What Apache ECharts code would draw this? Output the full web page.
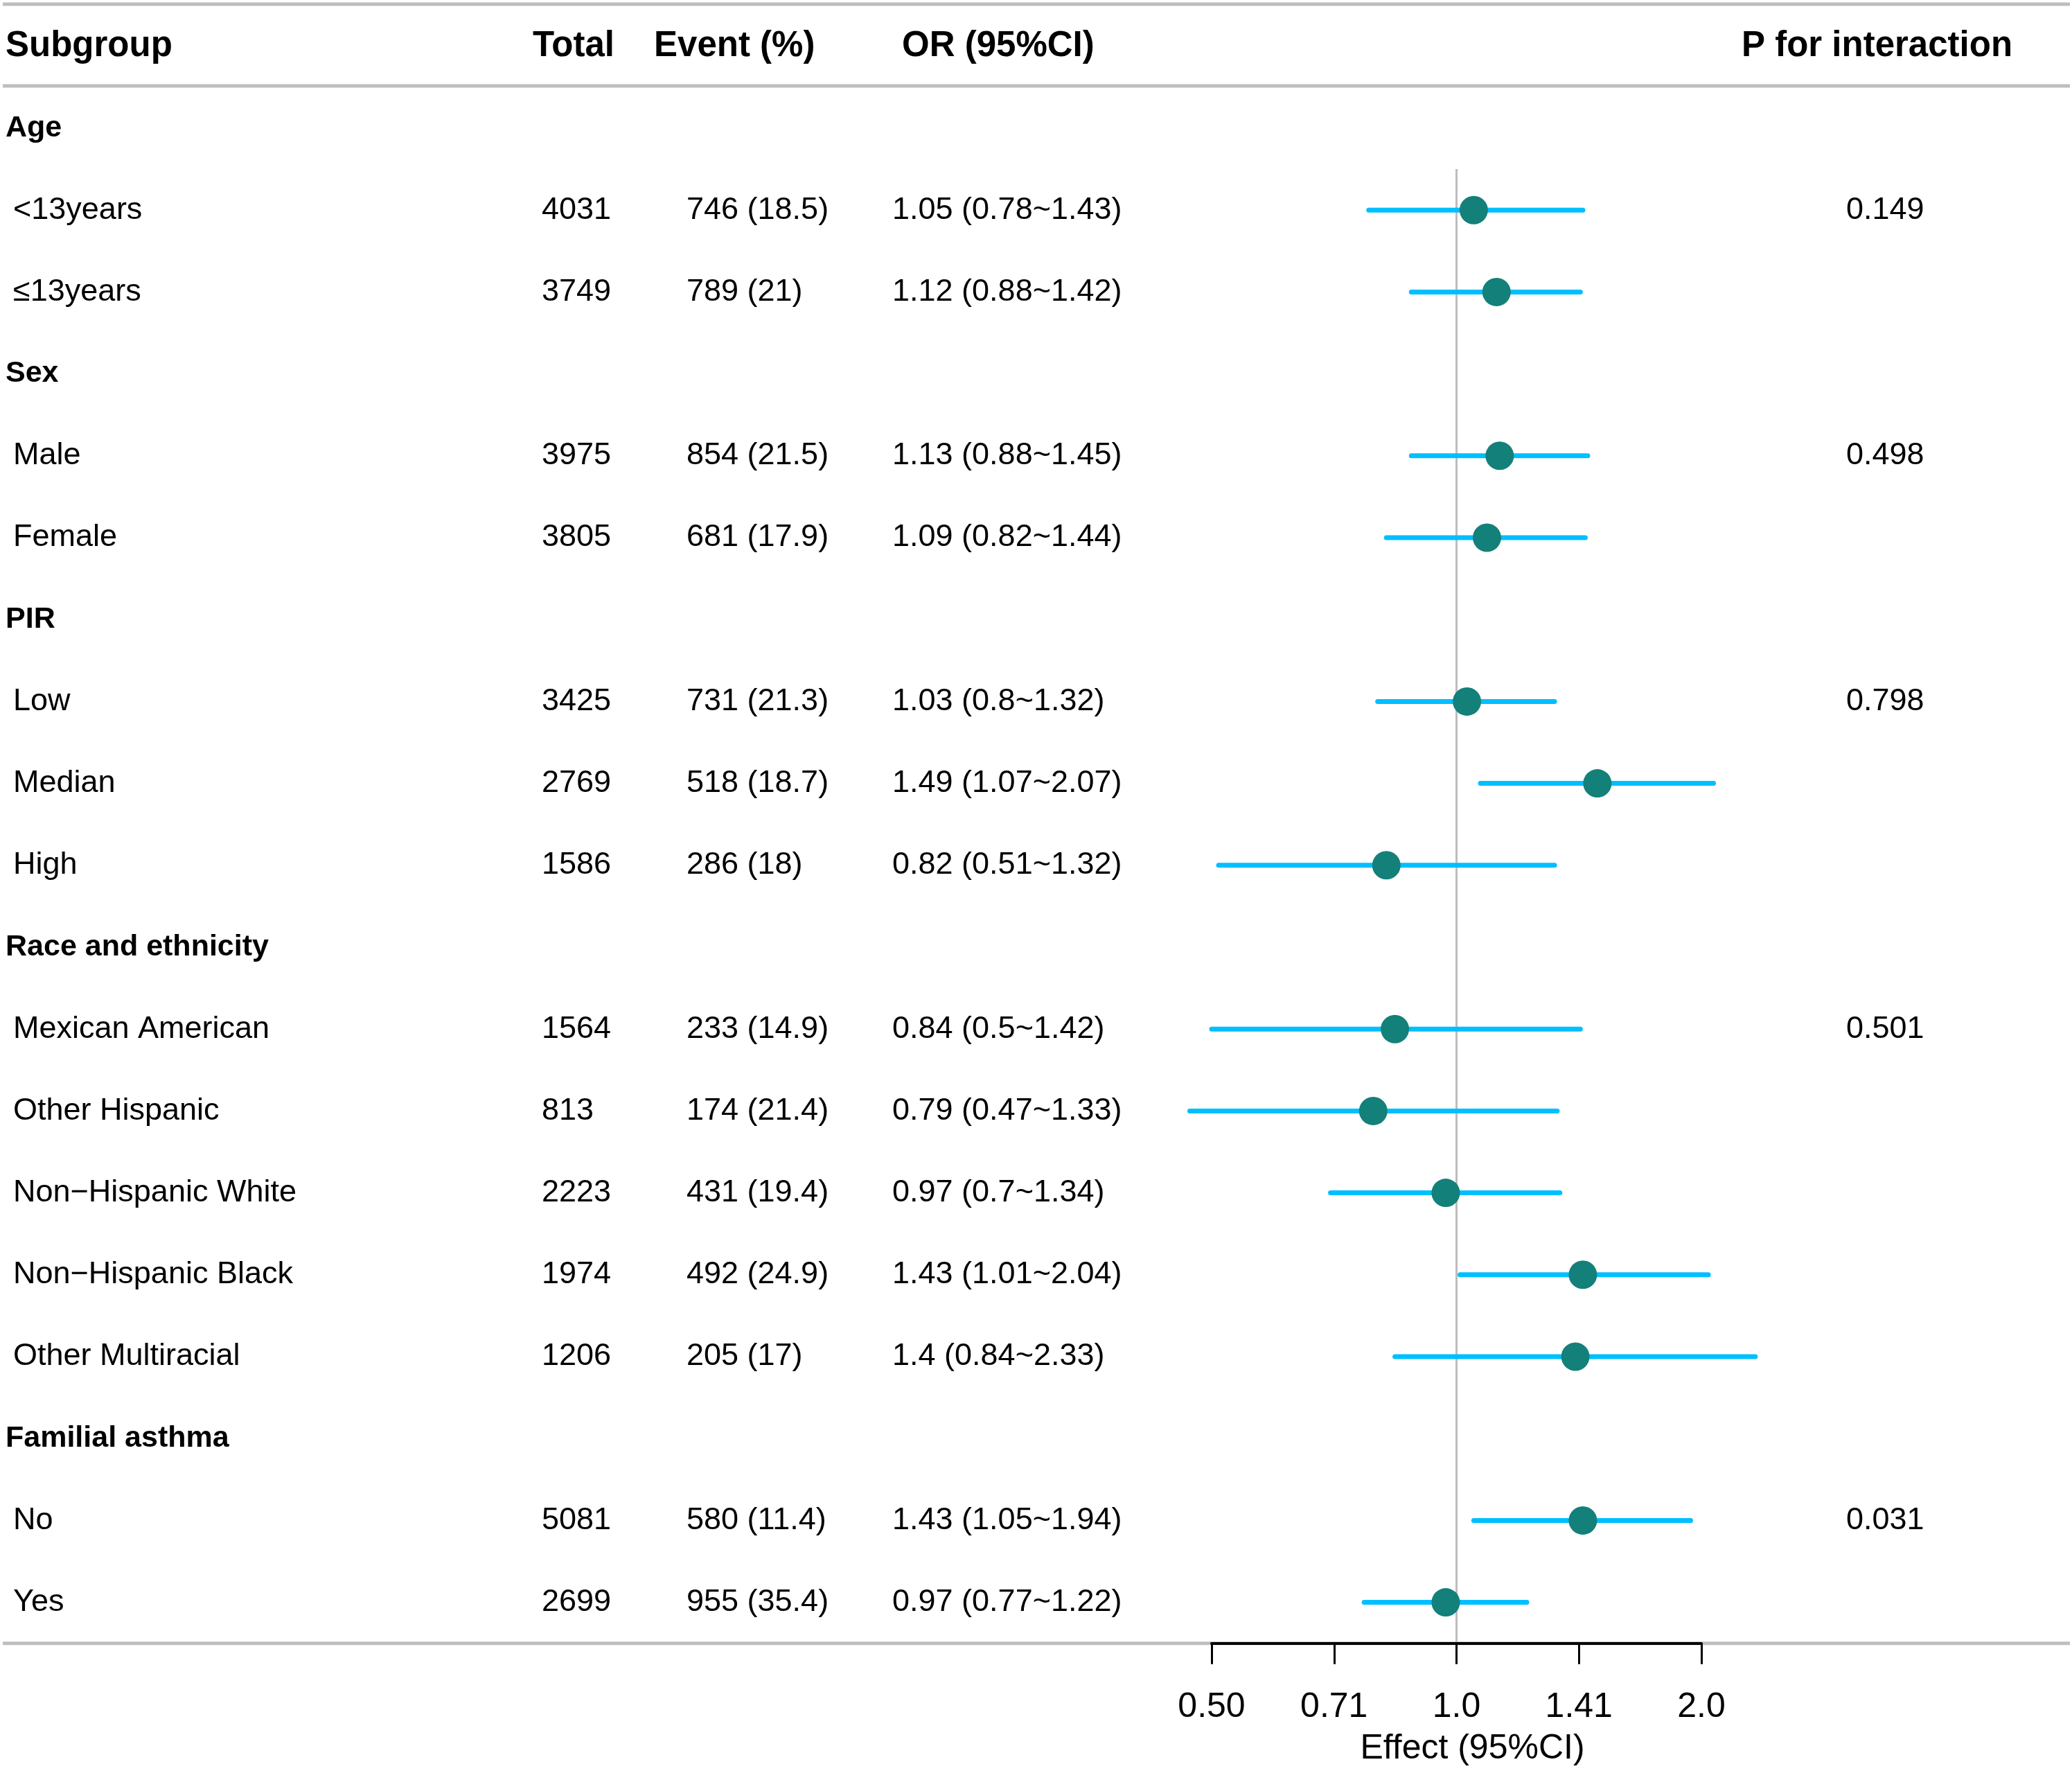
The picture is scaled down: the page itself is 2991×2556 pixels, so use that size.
<!DOCTYPE html>
<html>
<head>
<meta charset="utf-8">
<script src="https://cdn.jsdelivr.net/npm/echarts@6.0.0/dist/echarts.min.js"></script>
<style>
html,body{margin:0;padding:0;background:#fff;}
#chart{width:2991px;height:2556px;}
</style>
</head>
<body>
<div id="chart"></div>
<script>
// ---------------- data ----------------
var headers = ["Subgroup", "Total", "Event (%)", "OR (95%CI)", "P for interaction"];
var rowLabels = ["Age", "<13years", "≤13years", "Sex", "Male", "Female", "PIR", "Low", "Median", "High",
  "Race and ethnicity", "Mexican American", "Other Hispanic", "Non−Hispanic White", "Non−Hispanic Black",
  "Other Multiracial", "Familial asthma", "No", "Yes"];
var totals   = [null, 4031, 3749, null, 3975, 3805, null, 3425, 2769, 1586, null, 1564, 813, 2223, 1974, 1206, null, 5081, 2699];
var eventN   = [null, 746, 789, null, 854, 681, null, 731, 518, 286, null, 233, 174, 431, 492, 205, null, 580, 955];
var eventPct = [null, 18.5, 21, null, 21.5, 17.9, null, 21.3, 18.7, 18, null, 14.9, 21.4, 19.4, 24.9, 17, null, 11.4, 35.4];
var orVal    = [null, 1.05, 1.12, null, 1.13, 1.09, null, 1.03, 1.49, 0.82, null, 0.84, 0.79, 0.97, 1.43, 1.4, null, 1.43, 0.97];
var orLow    = [null, 0.78, 0.88, null, 0.88, 0.82, null, 0.8, 1.07, 0.51, null, 0.5, 0.47, 0.7, 1.01, 0.84, null, 1.05, 0.77];
var orHigh   = [null, 1.43, 1.42, null, 1.45, 1.44, null, 1.32, 2.07, 1.32, null, 1.42, 1.33, 1.34, 2.04, 2.33, null, 1.94, 1.22];
var pInter   = [null, "0.149", null, null, "0.498", null, null, "0.798", null, null, null, "0.501", null, null, null, null, null, "0.031", null];
var tickLabels = ["0.50", "0.71", "1.0", "1.41", "2.0"];
var xAxisName = "Effect (95%CI)";

// ---------------- build ----------------
var FONT = "Liberation Sans, Arial, Helvetica, sans-serif";
var colX = [19, 782, 991, 1288, 2665];    // column text left positions (layout)
var headX = [8, 769, 944, 1302, 2514];

var ciData = [], ptData = [], textData = [];
for (var i = 0; i < rowLabels.length; i++) {
  textData.push([0, i]);
  if (orVal[i] != null) {
    ciData.push([orLow[i], orHigh[i], i]);
    ptData.push([orVal[i], i]);
  }
}

function cellTexts(i) {
  if (totals[i] == null) return null;
  return [rowLabels[i], String(totals[i]), eventN[i] + " (" + eventPct[i] + ")",
    orVal[i] + " (" + orLow[i] + "~" + orHigh[i] + ")", pInter[i] || ""];
}

var chart = echarts.init(document.getElementById('chart'), null, {renderer: 'canvas'});
var gridTop = 125.9, gridH = 2245.8;

var option = {
  animation: false,
  backgroundColor: '#ffffff',
  grid: [
    {left: 1749, width: 707, top: gridTop, height: gridH},
    {left: 0, width: 2991, top: gridTop, height: gridH}
  ],
  xAxis: [
    {
      gridIndex: 0, type: 'log', logBase: 2, min: 0.5, max: 2, interval: 0.5, z: 10,
      position: 'bottom',
      axisLine: {show: true, onZero: false, lineStyle: {color: '#000', width: 4}},
      axisTick: {show: true, length: 30, lineStyle: {color: '#000', width: 3}},
      axisLabel: {
        margin: 68, fontSize: 50, color: '#000', fontFamily: FONT,
        formatter: function (v, idx) { return tickLabels[idx] != null ? tickLabels[idx] : v; }
      },
      splitLine: {show: false},
      name: xAxisName, nameLocation: 'middle', nameGap: 128,
      nameTextStyle: {fontSize: 50, color: '#000', fontFamily: FONT, padding: [0, 0, 0, 46]}
    },
    {gridIndex: 1, type: 'value', min: 0, max: 2991, show: false}
  ],
  yAxis: [
    {gridIndex: 0, type: 'value', min: -0.5, max: 18.5, inverse: true, show: false},
    {gridIndex: 1, type: 'value', min: -0.5, max: 18.5, inverse: true, show: false}
  ],
  graphic: [
    {type: 'line', z: -5, shape: {x1: 4, y1: 6, x2: 2988, y2: 6}, style: {stroke: '#BEBEBE', lineWidth: 5}},
    {type: 'line', z: -5, shape: {x1: 4, y1: 124, x2: 2988, y2: 124}, style: {stroke: '#BEBEBE', lineWidth: 5}},
    {type: 'line', z: -5, shape: {x1: 4, y1: 2371.7, x2: 2988, y2: 2371.7}, style: {stroke: '#BEBEBE', lineWidth: 5}}
  ],
  series: [
    {
      // reference line at OR = 1
      type: 'line', xAxisIndex: 0, yAxisIndex: 0, z: 1,
      data: [[1, 0.5], [1, 18.5]], symbol: 'none', silent: true,
      lineStyle: {color: '#BDBDBD', width: 3}
    },
    {
      // confidence intervals
      type: 'custom', xAxisIndex: 0, yAxisIndex: 0, z: 2,
      data: ciData,
      renderItem: function (params, api) {
        var p1 = api.coord([api.value(0), api.value(2)]);
        var p2 = api.coord([api.value(1), api.value(2)]);
        return {type: 'line', shape: {x1: p1[0], y1: p1[1], x2: p2[0], y2: p2[1]},
          style: {stroke: '#00BFFF', lineWidth: 7, lineCap: 'round'}};
      }
    },
    {
      type: 'scatter', xAxisIndex: 0, yAxisIndex: 0, z: 3,
      data: ptData, symbol: 'circle', symbolSize: 41,
      itemStyle: {color: '#138079', opacity: 1}
    },
    {
      // table text
      type: 'custom', xAxisIndex: 1, yAxisIndex: 1, z: 4,
      data: textData,
      renderItem: function (params, api) {
        var i = api.value(1);
        var children = [];
        if (i === 0) {
          var hy = api.coord([0, -1])[1];
          for (var h = 0; h < headers.length; h++) {
            children.push({type: 'text', style: {x: headX[h], y: hy, text: headers[h],
              fontSize: 51, fontWeight: 'bold', fontFamily: FONT, fill: '#000',
              textAlign: 'left', textVerticalAlign: 'middle'}});
          }
        }
        var y = api.coord([0, i])[1];
        var cells = cellTexts(i);
        if (!cells) {
          children.push({type: 'text', style: {x: 8, y: y, text: rowLabels[i],
            fontSize: 43, fontWeight: 'bold', fontFamily: FONT, fill: '#000',
            textAlign: 'left', textVerticalAlign: 'middle'}});
        } else {
          for (var c = 0; c < cells.length; c++) {
            if (!cells[c]) continue;
            children.push({type: 'text', style: {x: colX[c], y: y, text: cells[c],
              fontSize: 45, fontFamily: FONT, fill: '#000',
              textAlign: 'left', textVerticalAlign: 'middle'}});
          }
        }
        return {type: 'group', children: children};
      }
    }
  ]
};
chart.setOption(option);
</script>
</body>
</html>
